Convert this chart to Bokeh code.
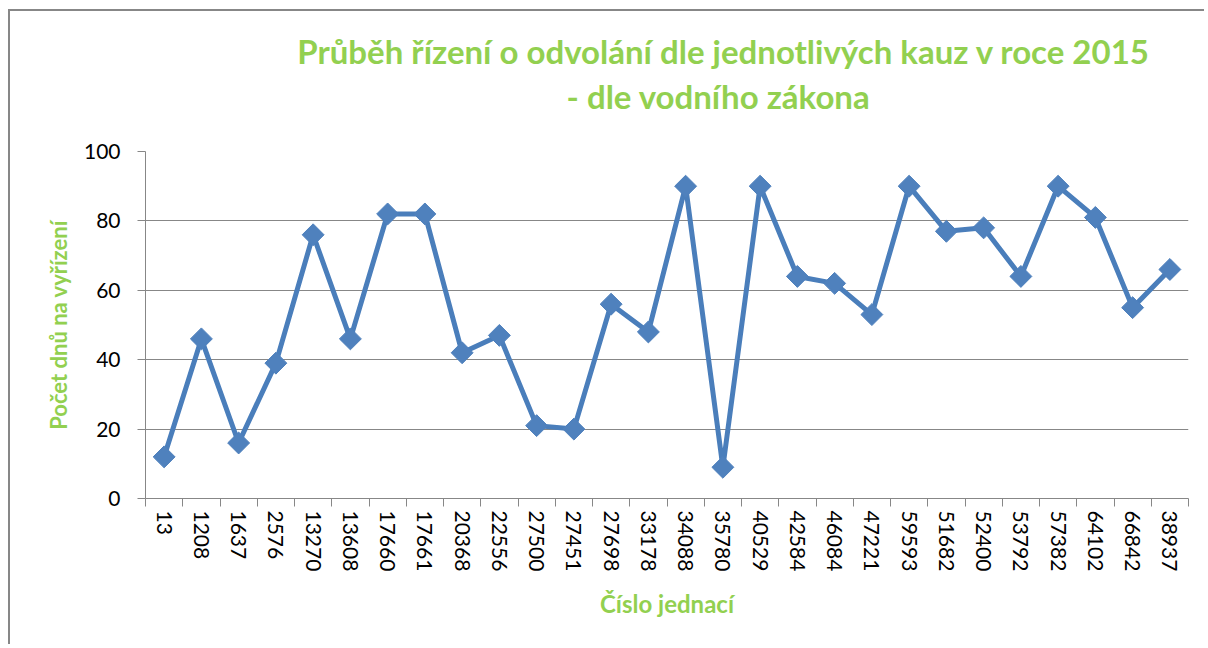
import numpy as np
from bokeh.plotting import figure
from bokeh.models import Title, FixedTicker, Range1d, LinearAxis
from bokeh.embed import file_html
from bokeh.resources import INLINE

# ---- data ----
cases = ["13", "1208", "1637", "2576", "13270", "13608", "17660", "17661", "20368",
         "22556", "27500", "27451", "27698", "33178", "34088", "35780", "40529",
         "42584", "46084", "47221", "59593", "51682", "52400", "53792", "57382",
         "64102", "66842", "38937"]
days = [12, 46, 16, 39, 76, 46, 82, 82, 42, 47, 21, 20, 56, 48, 90, 9, 90,
        64, 62, 53, 90, 77, 78, 64, 90, 81, 55, 66]
y_ticks = [0, 20, 40, 60, 80, 100]

title_lines = ["Průběh řízení o odvolání dle jednotlivých kauz v roce 2015",
               "- dle vodního zákona"]
y_title = "Počet dnů na vyřízení"
x_title = "Číslo jednací"

GREEN = "#92D050"
BLUE = "#4A7EBB"
GRID = "#878787"
FONT = "Lato"

n = len(cases)
xs = np.arange(n) + 0.5

p = figure(width=1196, height=635, output_backend="svg", toolbar_location=None,
           x_range=Range1d(0, n), y_range=Range1d(0, 100),
           min_border_left=135, min_border_right=18, min_border_top=140,
           min_border_bottom=148,
           styles={"border-left": "2px solid #878787", "border-top": "2px solid #878787",
                   "margin-left": "8px", "margin-top": "9px"})
p.title = None
p.outline_line_color = None
p.background_fill_color = "white"
p.border_fill_color = "white"

# x axis
xa = p.xaxis[0]
xa.ticker = FixedTicker(ticks=list(xs), minor_ticks=list(range(n + 1)))
xa.major_label_overrides = {float(x): c for x, c in zip(xs, cases)}
xa.major_label_orientation = "vertical"
xa.major_tick_out = 0
xa.major_tick_in = 0
xa.minor_tick_out = 8
xa.minor_tick_in = 0
xa.minor_tick_line_color = GRID
xa.axis_line_color = GRID
xa.major_label_standoff = 4
xa.major_label_text_font = FONT
xa.major_label_text_font_size = "21px"
xa.major_label_text_color = "black"
xa.axis_label = x_title
xa.axis_label_text_font = FONT
xa.axis_label_text_font_style = "bold"
xa.axis_label_text_font_size = "24px"
xa.axis_label_text_color = GREEN
xa.axis_label_standoff = 15

# y axis
ya = p.yaxis[0]
ya.ticker = FixedTicker(ticks=y_ticks)
ya.major_tick_out = 8
ya.major_tick_in = 0
ya.minor_tick_line_color = None
ya.major_tick_line_color = GRID
ya.axis_line_color = GRID
ya.major_label_standoff = 17
ya.major_label_text_font = FONT
ya.major_label_text_font_size = "21px"
ya.major_label_text_color = "black"
ya.axis_label = y_title
ya.axis_label_text_font = FONT
ya.axis_label_text_font_style = "bold"
ya.axis_label_text_font_size = "22px"
ya.axis_label_text_color = GREEN
ya.axis_label_standoff = 9

p.xgrid.grid_line_color = None
p.ygrid.ticker = FixedTicker(ticks=y_ticks)
p.ygrid.grid_line_color = GRID
p.ygrid.grid_line_width = 1

p.line(xs, days, line_color=BLUE, line_width=5)
p.scatter(xs, days, marker="square", angle=np.pi / 4, size=15.5,
          fill_color="#4F81BD", line_color="#4F81BD")

# invisible spacer between plot area and title (one white tick, empty label)
mid = n / 2
spacer = LinearAxis(ticker=FixedTicker(ticks=[mid], minor_ticks=[]), major_tick_out=36,
                    major_tick_in=0, axis_line_color=None, major_tick_line_color="white",
                    minor_tick_line_color=None, major_label_text_font_size="0px",
                    major_label_text_color="white", major_label_overrides={mid: ""},
                    major_label_standoff=0)
p.add_layout(spacer, "above")

# title (two lines): second line added first (closest to the frame)
p.add_layout(Title(text=title_lines[1], align="right", offset=318, standoff=0,
                   text_font=FONT, text_font_style="bold", text_font_size="33px",
                   text_color=GREEN), "above")
p.add_layout(Title(text=title_lines[0], align="right", offset=38, standoff=5,
                   text_font=FONT, text_font_style="bold", text_font_size="33px",
                   text_color=GREEN), "above")

html = file_html(p, INLINE)
open("out.html", "w").write(html)
